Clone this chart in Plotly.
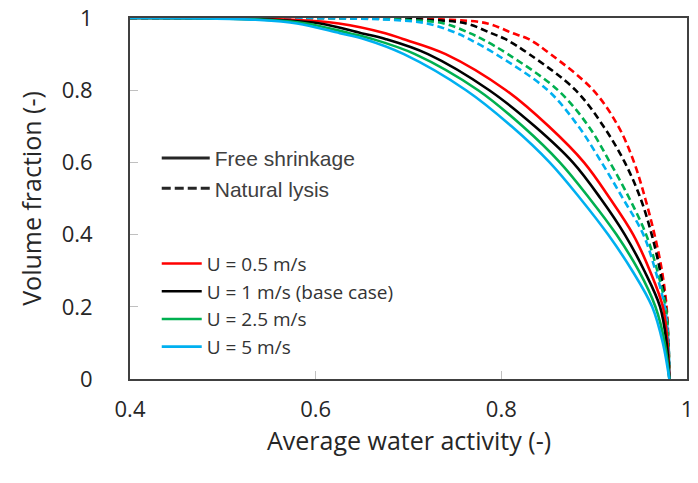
import plotly.graph_objects as go

# Volume fraction levels at which the curves were read
vf_levels = [1.0, 0.999, 0.995, 0.985, 0.958, 0.942, 0.90, 0.80, 0.70, 0.60,
             0.50, 0.40, 0.30, 0.20, 0.10, 0.0]

# Average water activity at each level (free shrinkage, solid)
aw_free_05 = [0.40, 0.51, 0.575, 0.625, 0.675, 0.694, 0.740, 0.805, 0.851, 0.889,
              0.917, 0.942, 0.960, 0.974, 0.979, 0.981]
aw_free_1 = [0.40, 0.50, 0.555, 0.605, 0.649, 0.675, 0.721, 0.787, 0.836, 0.877,
             0.907, 0.933, 0.954, 0.971, 0.978, 0.981]
aw_free_25 = [0.40, 0.49, 0.545, 0.59, 0.636, 0.661, 0.707, 0.775, 0.823, 0.863,
              0.895, 0.924, 0.948, 0.966, 0.976, 0.981]
aw_free_5 = [0.40, 0.48, 0.535, 0.58, 0.626, 0.652, 0.695, 0.762, 0.811, 0.852,
             0.885, 0.915, 0.941, 0.9625, 0.974, 0.981]

# Natural lysis (dashed)
aw_lysis_05 = [0.40, 0.69, 0.745, 0.785, 0.812, 0.829, 0.853, 0.899, 0.926, 0.943,
               0.955, 0.965, 0.973, 0.978, 0.980, 0.981]
aw_lysis_1 = [0.40, 0.67, 0.72, 0.762, 0.789, 0.804, 0.830, 0.880, 0.910, 0.933,
              0.950, 0.962, 0.971, 0.977, 0.980, 0.981]
aw_lysis_25 = [0.40, 0.645, 0.695, 0.738, 0.766, 0.779, 0.807, 0.861, 0.894, 0.917,
               0.938, 0.956, 0.968, 0.977, 0.980, 0.981]
aw_lysis_5 = [0.40, 0.63, 0.68, 0.72, 0.752, 0.765, 0.794, 0.850, 0.883, 0.908,
              0.931, 0.953, 0.966, 0.976, 0.980, 0.981]

series_names = ["U = 0.5 m/s", "U = 1 m/s (base case)", "U = 2.5 m/s", "U = 5 m/s"]
series_colors = ["#FF0000", "#000000", "#00B050", "#00B0F0"]
free_data = [aw_free_05, aw_free_1, aw_free_25, aw_free_5]
lysis_data = [aw_lysis_05, aw_lysis_1, aw_lysis_25, aw_lysis_5]

x_ticks = [0.4, 0.6, 0.8, 1.0]
y_ticks = [0, 0.2, 0.4, 0.6, 0.8, 1.0]

fig = go.Figure()

LW = 2.6
DASH = "7px,4px"

for name, color, xs in zip(series_names, series_colors, lysis_data):
    fig.add_trace(go.Scatter(x=xs, y=vf_levels, mode="lines",
                             line=dict(color=color, width=LW, dash=DASH, shape="spline", smoothing=1.0),
                             showlegend=False, hoverinfo="skip"))

for name, color, xs in zip(series_names, series_colors, free_data):
    fig.add_trace(go.Scatter(x=xs, y=vf_levels, mode="lines", name=name,
                             line=dict(color=color, width=LW, shape="spline", smoothing=1.0),
                             legend="legend2", legendgroup=name))

# legend for line styles
fig.add_trace(go.Scatter(x=[None], y=[None], mode="lines", name="Free shrinkage",
                         line=dict(color="#262626", width=3), legend="legend", legendgroup="a"))
fig.add_trace(go.Scatter(x=[None], y=[None], mode="lines", name="Natural lysis",
                         line=dict(color="#262626", width=3, dash="9px,4px"), legend="legend", legendgroup="b"))

axis_common = dict(
    showline=True, mirror=True, linecolor="#404040", linewidth=2,
    ticks="inside", ticklen=8, tickcolor="#c0c0c0", tickwidth=1,
    showgrid=False, zeroline=False, ticklabeloverflow="allow",
    tickfont=dict(family="Open Sans", size=22, color="#262626"),
)

fig.update_layout(
    width=698, height=483,
    margin=dict(l=130, r=11, t=18, b=104),
    paper_bgcolor="white", plot_bgcolor="white",
    xaxis=dict(range=[0.4, 1.0], tickvals=x_ticks, ticktext=["0.4", "0.6", "0.8", "1"],
               ticklabelstandoff=10, automargin=False, **axis_common),
    yaxis=dict(range=[0, 1.0], tickvals=y_ticks, ticktext=["0", "0.2", "0.4", "0.6", "0.8", "1"],
               title=dict(text="Volume fraction (-)", standoff=13,
                          font=dict(family="Open Sans", size=25, color="#262626")),
               ticklabelstandoff=31, automargin=False, **axis_common),
    legend=dict(x=0.048, y=0.668, xanchor="left", yanchor="top", bgcolor="rgba(0,0,0,0)",
                font=dict(family="Liberation Sans", size=21, color="#404040"),
                itemwidth=48, tracegroupgap=0, traceorder="normal"),
    legend2=dict(x=0.048, y=0.372, xanchor="left", yanchor="top", bgcolor="rgba(0,0,0,0)",
                 font=dict(family="Open Sans", size=19, color="#333333"),
                 itemwidth=40, tracegroupgap=0, traceorder="normal"),
    showlegend=True,
    annotations=[dict(text="Average water activity (-)", xref="paper", yref="paper",
                      x=0.5, y=-0.169, xanchor="center", yanchor="middle", showarrow=False,
                      font=dict(family="Open Sans", size=25, color="#262626"))],
)

fig.write_html("out.html", config={"displayModeBar": False},
               post_script="document.body.style.margin='0';")
